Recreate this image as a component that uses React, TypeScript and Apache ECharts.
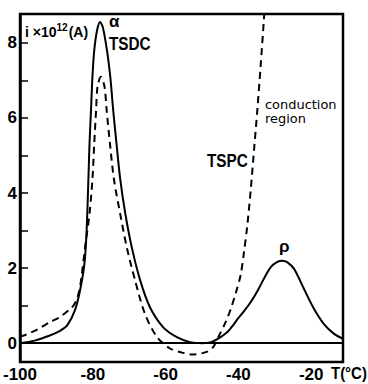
import React, { useEffect, useRef } from 'react';
import * as echarts from 'echarts';

// TSDC (solid) : temperature (°C) and current (×10^-12 A)
const tsdcT = [-100, -96, -92, -89, -87, -84.9, -83.5, -82.3, -81.7, -81.2, -80.9, -80.5, -80.1, -79.6, -78.8, -78.0, -77.2, -76.0, -75.2, -74.4, -73.5, -72.5, -71.1, -69.3, -67.0, -64.3, -60.7, -56.9, -53.3, -50.0, -47.5, -45.9, -43.1, -41.2, -40.4, -38.5, -36.6, -34.6, -33.0, -31.1, -29.3, -27.9, -26.6, -24.7, -22.0, -19.2, -16.5, -13.7, -11.3];
const tsdcI = [0.0, 0.07, 0.2, 0.33, 0.48, 0.88, 1.41, 2.12, 3.0, 4.4, 5.33, 6.2, 7.1, 7.81, 8.35, 8.56, 8.4, 7.73, 7.1, 6.21, 5.33, 4.4, 3.47, 2.56, 1.68, 0.96, 0.43, 0.16, 0.03, 0.0, 0.03, 0.1, 0.29, 0.51, 0.62, 0.85, 1.1, 1.42, 1.72, 2.03, 2.17, 2.2, 2.16, 1.98, 1.45, 0.91, 0.51, 0.25, 0.12];

// TSPC (dashed)
const tspcT = [-100, -98.6, -95.0, -91.8, -89.0, -86.3, -85.2, -84.3, -83.5, -82.1, -80.9, -80.1, -79.6, -79.1, -78.7, -77.8, -76.8, -76.2, -75.3, -74.2, -72.5, -70.7, -68.4, -65.7, -62.4, -58.8, -55.5, -52.5, -48.7, -46.9, -45.5, -43.7, -42.1, -40.5, -39.4, -38.5, -37.55, -36.6, -35.7, -34.8, -33.9, -33.0, -32.6];
const tspcI = [0.18, 0.22, 0.38, 0.56, 0.7, 0.91, 1.02, 1.2, 1.5, 2.57, 3.46, 4.37, 5.33, 6.21, 6.84, 7.1, 6.84, 6.21, 5.33, 4.37, 3.46, 2.57, 1.68, 0.79, 0.17, -0.14, -0.25, -0.3, -0.23, -0.1, 0.17, 0.52, 0.91, 1.41, 1.81, 2.4, 3.14, 4.1, 5.15, 6.21, 7.37, 8.61, 9.2];

const xLabelValues = [-100, -80, -60, -40, -20];
const yLabelValues = [0, 2, 4, 6, 8];
const yTickValues = [1, 2, 3, 4, 5, 6, 7, 8];

export default function App() {
  const ref = useRef<HTMLDivElement>(null);
  useEffect(() => {
    const chart = echarts.init(ref.current!, null, { renderer: 'svg' });
    const num = { fontFamily: 'Liberation Sans', fontWeight: 'bold', fontSize: 17, color: '#000' };
    const txt = (x: number, y: number, text: string, size: number, extra: any = {}) => ({
      type: 'text', x, y, silent: true,
      style: { text, fill: '#000', font: `bold ${size}px "Liberation Sans"`, textVerticalAlign: 'top', ...extra },
    });
    chart.setOption({
      animation: false,
      backgroundColor: '#fff',
      grid: { left: 20, top: 14, right: 25, bottom: 22, show: true, borderColor: '#000', borderWidth: 2.5 },
      xAxis: {
        type: 'value', min: -100, max: -11.26,
        axisLine: { show: false }, axisTick: { show: false }, splitLine: { show: false },
        axisLabel: { customValues: xLabelValues, margin: 4, ...num },
      },
      yAxis: {
        type: 'value', min: -0.5, max: 8.77,
        axisLine: { show: true, lineStyle: { color: '#000', width: 2.5 } },
        axisTick: { show: true, inside: true, length: 8, customValues: yTickValues, lineStyle: { color: '#000', width: 1.5 } },
        splitLine: { show: false },
        axisLabel: { customValues: yLabelValues, margin: 3, ...num },
      },
      series: [
        {
          type: 'line', name: 'TSDC', data: tsdcT.map((t, i) => [t, tsdcI[i]]),
          showSymbol: false, smooth: 0.3, lineStyle: { color: '#000', width: 2 },
          markLine: {
            silent: true, symbol: 'none', label: { show: false },
            lineStyle: { color: '#000', width: 2, type: 'solid' },
            data: [{ yAxis: 0 }],
          },
        },
        {
          type: 'line', name: 'TSPC', data: tspcT.map((t, i) => [t, tspcI[i]]),
          showSymbol: false, smooth: 0.3, lineStyle: { color: '#000', width: 2, type: [7, 5] },
        },
      ],
      graphic: [
        {
          type: 'text', x: 25, y: 22, silent: true,
          style: {
            text: '{a|i ×10}{s|12}{a|(A)}', fill: '#000',
            rich: {
              a: { fontFamily: 'Liberation Sans', fontWeight: 'bold', fontSize: 14, color: '#000', verticalAlign: 'bottom', lineHeight: 17 },
              s: { fontFamily: 'Liberation Sans', fontWeight: 'bold', fontSize: 10, color: '#000', verticalAlign: 'top', lineHeight: 17, padding: [0, 1, 7, 0] },
            },
          },
        },
        txt(109, 13, 'α', 17),
        { ...txt(109, 35, 'TSDC', 18), scaleX: 0.85 },
        { ...txt(207, 152, 'TSPC', 18), scaleX: 0.85 },
        { ...txt(265, 99, 'conduction', 12, { font: '12px "DejaVu Sans"' }), scaleX: 1.08 },
        { ...txt(265, 113, 'region', 12, { font: '12px "DejaVu Sans"' }), scaleX: 1.08 },
        txt(279, 238, 'ρ', 17),
        { ...txt(331, 365, 'T(°C)', 17), scaleX: 0.88 },
      ],
    });
    return () => chart.dispose();
  }, []);
  return <div ref={ref} style={{ position: 'fixed', left: 0, top: 0, width: 368, height: 384 }} />;
}
